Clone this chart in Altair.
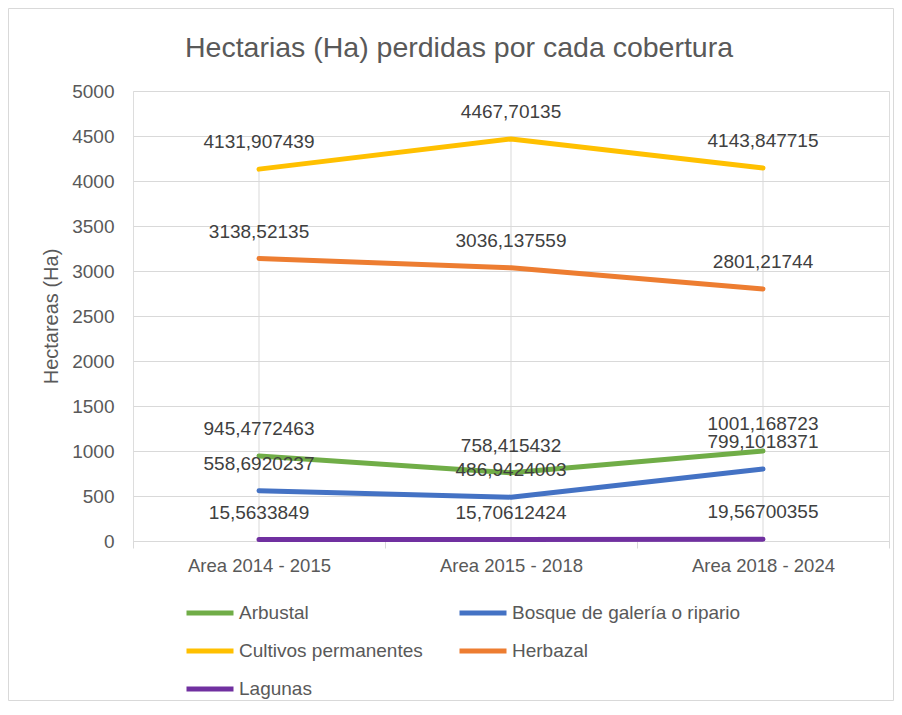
import altair as alt
import pandas as pd

categories = ["Area 2014 - 2015", "Area 2015 - 2018", "Area 2018 - 2024"]
series = ["Arbustal", "Bosque de galería o ripario", "Cultivos permanentes", "Herbazal", "Lagunas"]
colors = ["#70AD47", "#4472C4", "#FFC000", "#ED7D31", "#7030A0"]

arbustal = [945.4772463, 758.415432, 1001.168723]
bosque = [558.6920237, 486.9424003, 799.1018371]
cultivos = [4131.907439, 4467.70135, 4143.847715]
herbazal = [3138.52135, 3036.137559, 2801.21744]
lagunas = [15.5633849, 15.70612424, 19.56700355]

values_by_series = [arbustal, bosque, cultivos, herbazal, lagunas]
rows = []
for s, vals in zip(series, values_by_series):
    for c, v in zip(categories, vals):
        rows.append({"cat": c, "serie": s, "value": v})
df = pd.DataFrame(rows)

FONT = "Liberation Sans"
GRID = "#d9d9d9"
TXT = "#595959"

W, H = 756, 450
PADL, PADT, PADR, PADB = 125, 83, 5, 160

x_enc = alt.X(
    "cat:N",
    sort=categories,
    bandPosition=0.5,
    scale=alt.Scale(type="band", paddingInner=0, paddingOuter=0),
    axis=alt.Axis(
        title=None, grid=False, tickBand="extent", ticks=True, tickSize=7,
        tickColor=GRID, domainColor=GRID, labelPadding=8, labelAngle=0,
        labelFontSize=18.5, labelColor=TXT, labelFont=FONT,
    ),
)
y_scale = alt.Scale(domain=[0, 5000], nice=False)

base = alt.Chart(df)

frame = alt.Chart(alt.Data(values=[{"a": 1}])).mark_rect(
    fillOpacity=0, stroke=GRID, strokeWidth=1
).encode(
    x=alt.value(-PADL + 0.5), x2=alt.value(W + PADR - 0.5),
    y=alt.value(-PADT + 0.5), y2=alt.value(H + PADB - 0.5),
)

drops = base.transform_aggregate(
    mx="max(value)", groupby=["cat"]
).transform_calculate(zero="0").mark_rule(color=GRID, strokeWidth=1).encode(
    x=x_enc,
    y=alt.Y("zero:Q", scale=y_scale),
    y2="mx:Q",
)

lines = base.mark_line(strokeWidth=5, strokeCap="round", strokeJoin="round").encode(
    x=x_enc,
    y=alt.Y(
        "value:Q", scale=y_scale,
        axis=alt.Axis(
            title="Hectareas (Ha)", values=list(range(0, 5001, 500)), format="d",
            grid=True, gridColor=GRID, domain=False, ticks=False, tickSize=0,
            labelPadding=19, labelFontSize=19, labelColor=TXT, labelFont=FONT,
            titleFontSize=20, titleColor=TXT, titleFont=FONT,
            titleFontWeight="normal", titlePadding=10,
        ),
    ),
    color=alt.Color(
        "serie:N",
        scale=alt.Scale(domain=series, range=colors),
        legend=alt.Legend(
            title=None, orient="none", legendX=51, legendY=496,
            direction="horizontal", columns=2, symbolType="stroke", symbolSize=2209,
            symbolStrokeWidth=5, labelFontSize=19, labelColor=TXT,
            labelFont=FONT, labelOffset=3, columnPadding=26, rowPadding=2,
            labelLimit=400,
        ),
    ),
)

labels = base.transform_calculate(
    lbl="replace(toString(datum.value), '.', ',')"
).mark_text(dy=-27, fontSize=19, font=FONT, color="#404040").encode(
    x=x_enc,
    y=alt.Y("value:Q", scale=y_scale),
    text="lbl:N",
)

chart = alt.layer(frame, drops, lines, labels).properties(
    width=W, height=H,
    title=alt.TitleParams(
        "Hectarias (Ha) perdidas por cada cobertura",
        fontSize=28.5, font=FONT, color=TXT, fontWeight="normal",
        anchor="middle", dx=-52, offset=0, dy=54,
    ),
    autosize=alt.AutoSizeParams(type="none"),
    padding={"left": PADL, "top": PADT, "right": PADR, "bottom": PADB},
).configure_view(stroke=None).configure(background="white")

chart.save("out.html", embed_options={"renderer": "svg", "actions": False})
